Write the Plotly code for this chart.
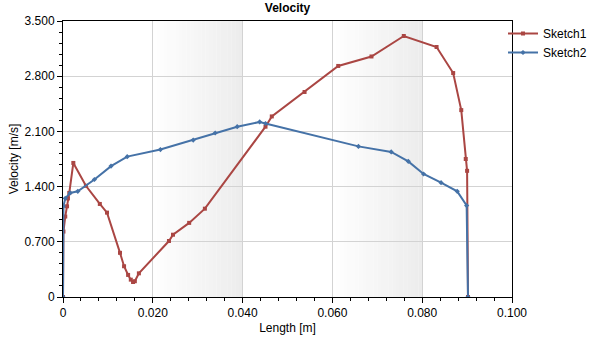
import plotly.graph_objects as go

# Sketch1 (red)
s1_x = [0.0000, 0.0001, 0.0005, 0.0009, 0.0011, 0.0014, 0.0023, 0.0051, 0.0082, 0.0098,
        0.0127, 0.0136, 0.0145, 0.0151, 0.0156, 0.0160, 0.0169, 0.0236, 0.0245, 0.0281,
        0.0316, 0.0451, 0.0465, 0.0538, 0.0613, 0.0687, 0.0759, 0.0832, 0.0869, 0.0887,
        0.0897, 0.0900, 0.0902]
s1_y = [0.00, 0.83, 1.02, 1.15, 1.25, 1.32, 1.70, 1.41, 1.18, 1.07,
        0.56, 0.39, 0.28, 0.22, 0.19, 0.20, 0.30, 0.71, 0.79, 0.94,
        1.12, 2.16, 2.29, 2.60, 2.93, 3.05, 3.31, 3.17, 2.84, 2.37,
        1.75, 1.60, 0.00]

# Sketch2 (blue)
s2_x = [0.0000, 0.0001, 0.0005, 0.0016, 0.0033, 0.0070, 0.0107, 0.0143, 0.0217, 0.0290,
        0.0339, 0.0388, 0.0438, 0.0451, 0.0658, 0.0731, 0.0769, 0.0803, 0.0842, 0.0878,
        0.0899, 0.0902]
s2_y = [0.00, 1.15, 1.25, 1.32, 1.34, 1.49, 1.66, 1.78, 1.87, 1.99,
        2.08, 2.16, 2.22, 2.20, 1.91, 1.84, 1.72, 1.56, 1.45, 1.34,
        1.16, 0.00]

x_ticks = [0, 0.02, 0.04, 0.06, 0.08, 0.10]
x_labels = ["0", "0.020", "0.040", "0.060", "0.080", "0.100"]
y_ticks = [0, 0.7, 1.4, 2.1, 2.8, 3.5]
y_labels = ["0", "0.700", "1.400", "2.100", "2.800", "3.500"]
bands = [(0.02, 0.04), (0.06, 0.08)]

RED = "#AA4643"
BLUE = "#4572A7"
FONT = "Liberation Sans, Arial, sans-serif"
W, H = 596, 345

fig = go.Figure()

# gradient bands (white -> light grey), drawn below the grid as thin strips
N = 24
shapes = []
for b0, b1 in bands:
    w = (b1 - b0) / N
    for i in range(N):
        t = (i + 0.5) / N
        g = int(round(255 - 19 * t))
        shapes.append(dict(type="rect", xref="x", yref="paper",
                           x0=b0 + i * w, x1=b0 + (i + 1) * w + w * 0.05, y0=0, y1=1,
                           fillcolor=f"rgb({g},{g},{g})", line=dict(width=0),
                           layer="below"))

fig.add_trace(go.Scatter(x=s1_x, y=s1_y, mode="lines+markers", name="Sketch1",
                         line=dict(color=RED, width=2),
                         marker=dict(color=RED, size=4, symbol="square")))
fig.add_trace(go.Scatter(x=s2_x, y=s2_y, mode="lines+markers", name="Sketch2",
                         line=dict(color=BLUE, width=2),
                         marker=dict(color=BLUE, size=4, symbol="diamond")))

axis_common = dict(showline=True, linecolor="black", linewidth=1, mirror=True,
                   ticks="outside", ticklen=5, tickcolor="black",
                   gridcolor="#d3d3d3", gridwidth=1, zeroline=False, automargin=False,
                   tickfont=dict(family=FONT, size=12, color="black"))

fig.update_xaxes(range=[0, 0.1], tickvals=x_ticks, ticktext=x_labels,
                 minor=dict(dtick=0.004, ticklen=3, ticks="outside", tickcolor="black", showgrid=False),
                 title=dict(text="Length [m]", font=dict(family=FONT, size=12, color="black"), standoff=4),
                 **axis_common)
fig.update_yaxes(range=[0, 3.5], tickvals=y_ticks, ticktext=y_labels,
                 minor=dict(dtick=0.14, ticklen=3, ticks="outside", tickcolor="black", showgrid=False),
                 title=dict(text="Velocity [m/s]", font=dict(family=FONT, size=12, color="black"), standoff=3),
                 **axis_common)

fig.update_layout(
    width=W, height=H,
    margin=dict(l=63, r=84, t=21, b=48, autoexpand=False),
    paper_bgcolor="white", plot_bgcolor="white",
    shapes=shapes,
    title=dict(text="<b>Velocity</b>", x=(63 + 512) / 2 / W, xanchor="center",
               xref="container", yref="container",
               y=1 - 8 / H, yanchor="middle", font=dict(family=FONT, size=12, color="black")),
    legend=dict(xref="container", yref="container", x=503 / W, y=1 - 19 / H,
                xanchor="left", yanchor="top", bgcolor="rgba(0,0,0,0)",
                font=dict(family=FONT, size=12, color="black"), itemwidth=30,
                tracegroupgap=0),
    showlegend=True,
)

fig.write_html("out.html", config={"displayModeBar": False},
               post_script="document.body.style.margin='0';document.body.style.padding='0';")
